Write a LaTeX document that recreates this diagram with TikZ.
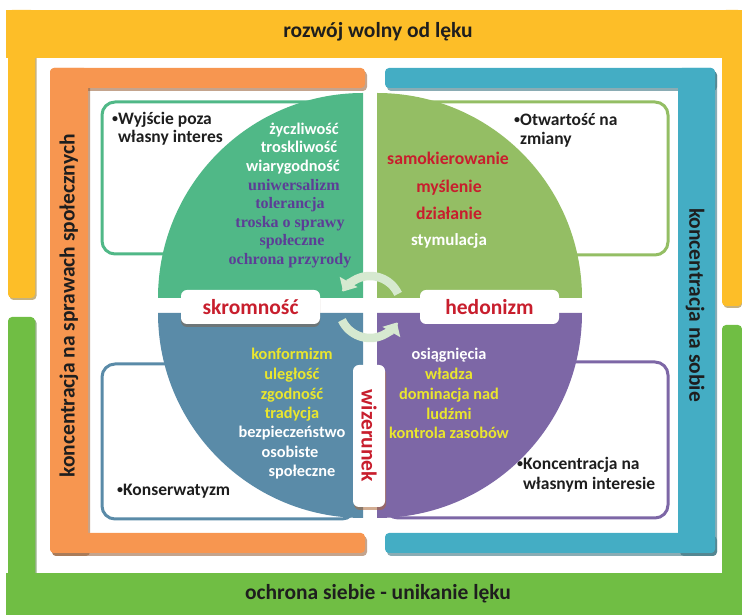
\documentclass[tikz,border=0pt]{standalone}
\usepackage{fontspec}
\setmainfont{Carlito}
\newfontfamily\timesb{Liberation Serif}
\usetikzlibrary{arrows.meta}
\definecolor{cyel}{RGB}{253,190,40}
\definecolor{cgrn}{RGB}{112,190,68}
\definecolor{cora}{RGB}{247,150,80}
\definecolor{cblu}{RGB}{68,173,196}
\definecolor{qtl}{RGB}{80,184,135}
\definecolor{qtr}{RGB}{148,190,100}
\definecolor{qbl}{RGB}{90,139,168}
\definecolor{qbr}{RGB}{125,103,166}
\definecolor{tred}{RGB}{200,30,45}
\definecolor{tyel}{RGB}{234,230,45}
\definecolor{tpur}{RGB}{92,62,150}
\definecolor{tblk}{RGB}{30,30,30}
\definecolor{arrc}{RGB}{214,233,208}
\newcommand\myq{\bfseries\fontsize{16.3}{19}\selectfont}
\newcommand\mys{\timesb\bfseries\fontsize{16}{19}\selectfont}
\newcommand\myr{\bfseries\fontsize{17.7}{21}\selectfont}
\newcommand\mysr{\bfseries\fontsize{17}{21}\selectfont}
\newcommand\myb{\bfseries\fontsize{17.5}{21}\selectfont}
\newcommand\myl{\bfseries\fontsize{21.5}{25}\selectfont}
\newcommand\myh{\bfseries\fontsize{21.5}{25}\selectfont}
\newcommand\mybul{\llap{\raisebox{1.5pt}{\fontsize{12}{12}\selectfont\textbullet}}}
\begin{document}
\begin{tikzpicture}[x=1pt,y=1pt,
  shd/.style={fill=#1, opacity=0.55},
  ibox/.style={line width=3pt, rounded corners=13pt, fill=white},
  tx/.style={inner sep=0pt, anchor=mid},
  qw/.style={tx, text=white, font=\myq},
  qy/.style={tx, text=tyel, font=\myq},
  qp/.style={tx, text=tpur, font=\mys},
  qr/.style={tx, text=tred, font=\myr},
  qw16/.style={tx, text=white, font=\mysr},
  bt/.style={inner sep=0pt, anchor=mid west, text=tblk, font=\myb},
  hd/.style={inner sep=0pt, text=tblk, font=\myh},
  lbl/.style={fill=white, rounded corners=6pt, text=tred, font=\myl, inner sep=0pt},
  arrw/.style={draw=arrc, line width=8.5pt, -{Triangle[width=20pt,length=11pt]}}
]
\useasboundingbox (0,0) rectangle (742,615);
% ---- outer shadows
\fill[shd=cyel!60!black, rounded corners=4pt] (9.5,315) rectangle (36.5,600);
\fill[shd=cyel!60!black, rounded corners=4pt] (723.5,307) rectangle (742,600);
\fill[shd=cgrn!60!black, rounded corners=4pt] (9.5,36) rectangle (36.5,296);
\fill[shd=cgrn!60!black, rounded corners=4pt] (723.5,36) rectangle (742,288);
% ---- outer yellow / green
\fill[cyel] (6,557) rectangle (742,605);
\fill[cyel, rounded corners=4pt] (8,317) rectangle (35,605);
\fill[cyel, rounded corners=4pt] (722,309) rectangle (742,605);
\fill[cgrn] (6,0) rectangle (742,42);
\fill[cgrn, rounded corners=4pt] (8,38) rectangle (35,298);
\fill[cgrn, rounded corners=4pt] (722,38) rectangle (742,290);
\node[hd] (top) at (378,583) {rozwój wolny od lęku};
\node[hd] (bot) at (378,21) {ochrona siebie - unikanie lęku};
% ---- orange and blue brackets: shadows
\fill[shd=cora!60!black, rounded corners=4pt] (52,59) rectangle (367,79);
\fill[shd=cora!60!black, rounded corners=4pt] (52,524) rectangle (367,544);
\fill[shd=cora!60!black, rounded corners=4pt] (52,59) rectangle (90,544);
\fill[shd=cblu!60!black, rounded corners=4pt] (387,59) rectangle (717,79);
\fill[shd=cblu!60!black, rounded corners=4pt] (387,524) rectangle (717,544);
\fill[shd=cblu!60!black, rounded corners=4pt] (680,59) rectangle (717,544);
% ---- brackets
\fill[cora, rounded corners=4pt] (50,62) rectangle (365,82);
\fill[cora, rounded corners=4pt] (50,527) rectangle (365,547);
\fill[cora, rounded corners=4pt] (50,62) rectangle (88,547);
\fill[cblu, rounded corners=4pt] (385,62) rectangle (715,82);
\fill[cblu, rounded corners=4pt] (385,527) rectangle (715,547);
\fill[cblu, rounded corners=4pt] (678,62) rectangle (715,547);
\node[hd, rotate=90] (lside) at (69,309) {koncentracja na sprawach społecznych};
\node[hd, rotate=-90] (rside) at (695,310) {koncentracja na sobie};
% ---- inner boxes
\draw[ibox, draw=qtl] (102,361) rectangle (355,513);
\draw[ibox, draw=qtr] (385,360) rectangle (668,513);
\draw[ibox, draw=qbl] (102,96) rectangle (355,251);
\draw[ibox, draw=qbr] (385,97) rectangle (668,253);
\node[bt] (b1a) at (118,493) {\mybul Wyjście poza};
\node[bt] (b1b) at (118,475) {własny interes};
\node[bt] (b2a) at (520,492) {\mybul Otwartość na};
\node[bt] (b2b) at (520,473) {zmiany};
\node[bt] (b3a) at (123,122) {\mybul Konserwatyzm};
\node[bt] (b4a) at (523,148) {\mybul Koncentracja na};
\node[bt] (b4b) at (523,128) {własnym interesie};
% ---- quadrants
\fill[qtl] (363,317) -- (158,317) arc[start angle=180,end angle=90,radius=205] -- cycle;
\fill[qtr] (377,317) -- (377,522) arc[start angle=90,end angle=0,radius=205] -- cycle;
\fill[qbl] (363,302) -- (363,97) arc[start angle=270,end angle=180,radius=205] -- cycle;
\fill[qbr] (377,302) -- (582,302) arc[start angle=0,end angle=-90,radius=205] -- cycle;
% ---- quadrant texts
\node[qw] (z1) at (304,483) {życzliwość};
\node[qw] (z2) at (299,465) {troskliwość};
\node[qw] (z3) at (293,446) {wiarygodność};
\node[qp] (z4) at (294,427) {uniwersalizm};
\node[qp] (z5) at (290,409) {tolerancja};
\node[qp] (z6) at (290,390) {troska o sprawy};
\node[qp] (z7) at (292,372) {społeczne};
\node[qp] (z8) at (290,353) {ochrona przyrody};
\node[qr] (s1) at (448,453) {samokierowanie};
\node[qr] (s2) at (449,425) {myślenie};
\node[qr] (s3) at (449,398) {działanie};
\node[qw16] (s4) at (449,372) {stymulacja};
\node[qy] (k1) at (292,258) {konformizm};
\node[qy] (k2) at (292,238) {uległość};
\node[qy] (k3) at (292,218) {zgodność};
\node[qy] (k4) at (292,199) {tradycja};
\node[qw] (k5) at (292,180) {bezpieczeństwo};
\node[qw] (k6) at (290,160) {osobiste};
\node[qw] (k7) at (302,141) {społeczne};
\node[qw] (o1) at (449,258) {osiągnięcia};
\node[qy] (o2) at (449,238) {władza};
\node[qy] (o3) at (449,218) {dominacja nad};
\node[qy] (o4) at (449,198) {ludźmi};
\node[qy] (o5) at (449,179) {kontrola zasobów};
% ---- centre arrows
\coordinate (cc) at (370,308);
\draw[arrw] ([shift={(25:31)}]cc) arc[start angle=25,end angle=150,radius=31];
\draw[arrw] ([shift={(205:31)}]cc) arc[start angle=205,end angle=330,radius=31];
% ---- labels
\fill[shd=qbl!50!black!60!cora, rounded corners=6pt] (181,288) rectangle (320,322);
\node[lbl, minimum width=139pt, minimum height=34pt] (skr) at (250.5,308) {skromność};
\node[lbl, minimum width=139pt, minimum height=34pt] (hed) at (489.5,308) {hedonizm};
\fill[shd=cora!70!black, rounded corners=6pt] (354,105) rectangle (386,247);
\node[lbl, rotate=-90, minimum width=142pt, minimum height=32pt] (wiz) at (369,179) {wizerunek};
\end{tikzpicture}
\end{document}
